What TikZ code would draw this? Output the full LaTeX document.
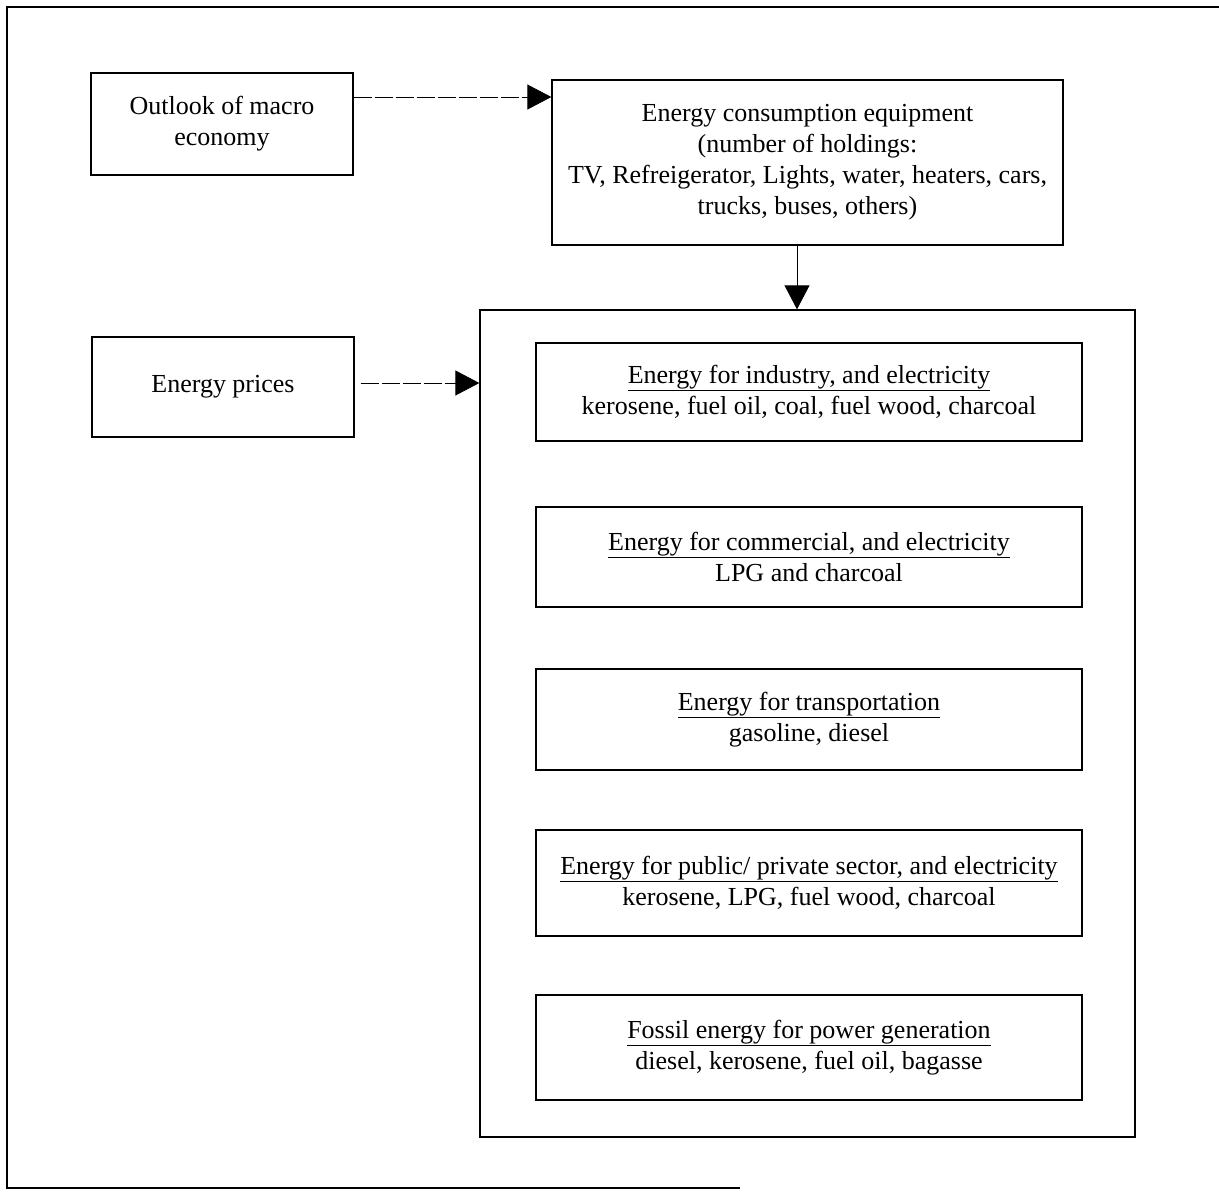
\documentclass[tikz,border=0pt]{standalone}
\usepackage{fontspec}
\setmainfont{Liberation Serif}
\usetikzlibrary{arrows.meta,calc}
\begin{document}
\begin{tikzpicture}[x=1pt,y=-1pt,
  box/.style={draw,line width=1.3pt,inner sep=0pt,align=center,
    font=\fontsize{26}{31}\selectfont},
  conn/.style={line width=0.8pt,-{Triangle[length=24pt,width=25pt]}},
  dconn/.style={conn,dash pattern=on 18pt off 3pt}]
\useasboundingbox (0,0) rectangle (1219,1195);
% outer frame (open at right)
\draw[line width=1.4pt] (1219,7) -- (7,7) -- (7,1188) -- (740,1188);
% boxes
\node[box,minimum width=262pt,minimum height=102pt] (macro) at (222,124)
  {Outlook of macro\\economy};
\node[box,minimum width=511pt,minimum height=165pt] (equip) at (807.5,162.5)
  {Energy consumption equipment\\(number of holdings:\\TV, Refreigerator, Lights, water, heaters, cars,\\trucks, buses, others)};
\node[box,minimum width=262pt,minimum height=100pt] (prices) at (223,387)
  {Energy prices};
\node[draw,line width=1.3pt,minimum width=655pt,minimum height=827pt] (big) at (807.5,723.5) {};
\node[box,minimum width=546pt,minimum height=98pt] (b1) at (809,392)
  {\underline{Energy for industry, and electricity}\\kerosene, fuel oil, coal, fuel wood, charcoal};
\node[box,minimum width=546pt,minimum height=100pt] (b2) at (809,557)
  {\underline{Energy for commercial, and electricity}\\LPG and charcoal};
\node[box,minimum width=546pt,minimum height=101pt] (b3) at (809,719.5)
  {\underline{Energy for transportation}\\gasoline, diesel};
\node[box,minimum width=546pt,minimum height=106pt] (b4) at (809,883)
  {\underline{Energy for public/ private sector, and electricity}\\kerosene, LPG, fuel wood, charcoal};
\node[box,minimum width=546pt,minimum height=105pt] (b5) at (809,1047.5)
  {\underline{Fossil energy for power generation}\\diesel, kerosene, fuel oil, bagasse};
% connectors
\coordinate (r1) at (0,97);
\coordinate (r2) at (0,383);
\coordinate (c3) at (797,0);
\draw[dconn] (macro.east |- r1) -- (equip.west |- r1);
\coordinate (p0) at ($(prices.east |- r2)+(6,0)$);
\draw[dconn] (p0) -- (big.west |- r2);
\draw[conn] (equip.south -| c3) -- (big.north -| c3);
\end{tikzpicture}
\end{document}
